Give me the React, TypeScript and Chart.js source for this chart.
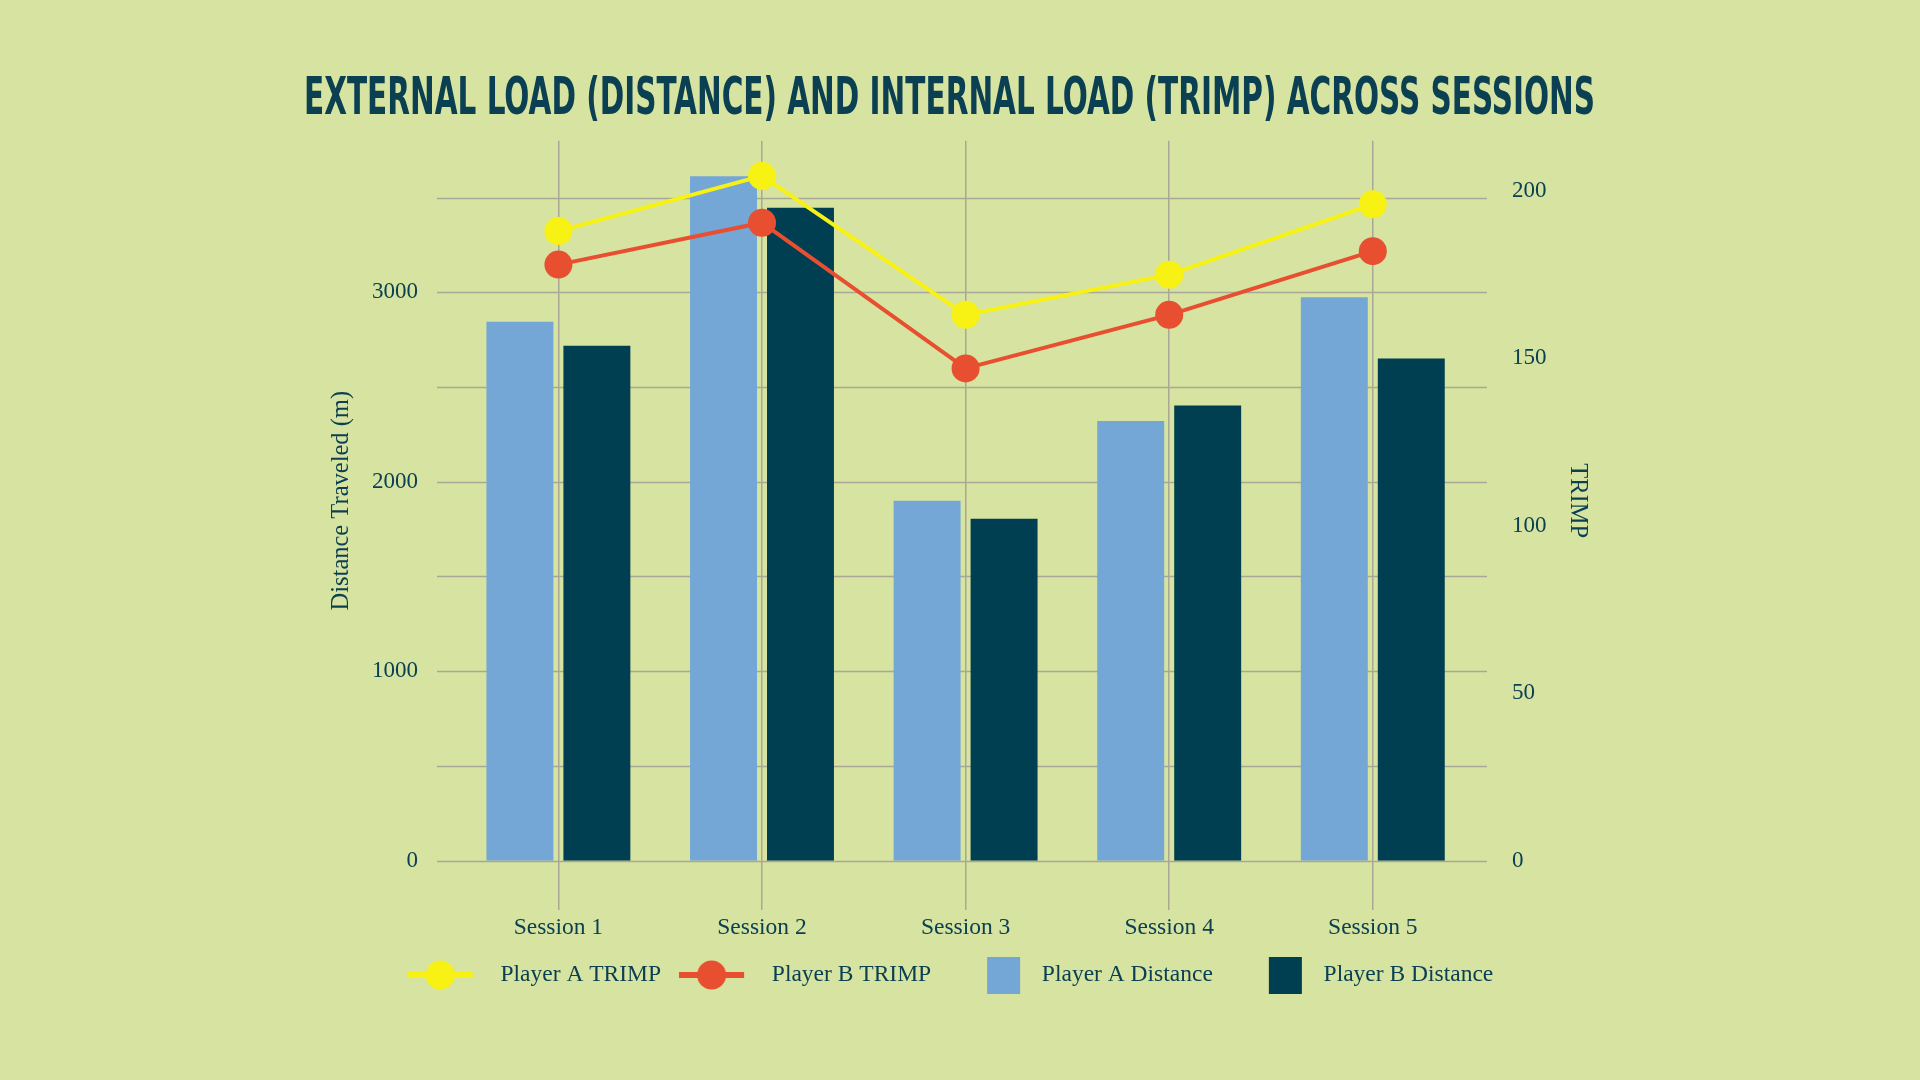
import { useEffect, useRef } from "react"
import { Chart, registerables, type Plugin } from "chart.js"

// Register Chart.js components
Chart.register(...registerables)

const sessions = ["Session 1", "Session 2", "Session 3", "Session 4", "Session 5"]
const playerADistance = [2845, 3613, 1900, 2321, 2974]
const playerBDistance = [2718, 3446, 1805, 2402, 2650]
const playerATrimp = [188, 204.5, 163, 175, 196]
const playerBTrimp = [178, 190.5, 147, 163, 182]

// grid steps and the tick values that carry a label
const distanceSteps = [0, 500, 1000, 1500, 2000, 2500, 3000, 3500]
const distanceLabels = [0, 1000, 2000, 3000]
const trimpLabels = [0, 50, 100, 150, 200]

const TITLE = "EXTERNAL LOAD (DISTANCE) AND INTERNAL LOAD (TRIMP) ACROSS SESSIONS"

const BG = "#d7e3a0"
const INK = "#0b4052"
const GRID = "#aaa796"
const LIGHT_BLUE = "#74a7d6"
const DARK_TEAL = "#003f52"
const YELLOW = "#f7f214"
const RED = "#e84f30"
const SERIF = '"Liberation Serif", "Times New Roman", serif'

// legend icon: line with a dot, or a plain box, drawn on a small canvas
function lineIcon(color: string) {
  const c = document.createElement("canvas")
  c.width = 81
  c.height = 30
  const ctx = c.getContext("2d")!
  ctx.fillStyle = color
  ctx.fillRect(0, 12, 65, 6)
  ctx.beginPath()
  ctx.arc(32.5, 15, 14.5, 0, Math.PI * 2)
  ctx.fill()
  return c
}

function boxIcon(color: string) {
  const c = document.createElement("canvas")
  c.width = 81
  c.height = 37
  const ctx = c.getContext("2d")!
  ctx.fillStyle = color
  ctx.fillRect(38, 0, 33, 37)
  return c
}

// horizontal grid lines run a little past the category area
const extendedGrid: Plugin = {
  id: "extendedGrid",
  beforeDatasetsDraw(chart) {
    const { ctx, chartArea } = chart
    const y = chart.scales.y
    ctx.save()
    ctx.strokeStyle = GRID
    ctx.lineWidth = 1.5
    y.ticks.forEach((tick) => {
      const py = Math.round(y.getPixelForValue(tick.value)) + 0.5
      ctx.beginPath()
      ctx.moveTo(chartArea.left - 19.6, py)
      ctx.lineTo(chartArea.right + 12.4, py)
      ctx.stroke()
    })
    ctx.restore()
  },
}

// condensed display title
const condensedTitle: Plugin = {
  id: "condensedTitle",
  afterDraw(chart) {
    const { ctx } = chart
    ctx.save()
    ctx.font = 'bold 52px "Liberation Sans Narrow", "DejaVu Sans Condensed", sans-serif'
    const w = ctx.measureText(TITLE).width
    const sx = Math.min(1, 1291 / w)
    ctx.translate(949.5, 114)
    ctx.scale(sx, 1)
    ctx.textAlign = "center"
    ctx.textBaseline = "alphabetic"
    ctx.fillStyle = INK
    ctx.fillText(TITLE, 0, 0)
    ctx.restore()
  },
}

export default function App() {
  const chartRef = useRef<HTMLCanvasElement>(null)
  const chartInstance = useRef<Chart | null>(null)

  useEffect(() => {
    if (!chartRef.current) return
    if (chartInstance.current) chartInstance.current.destroy()

    const ctx = chartRef.current.getContext("2d")
    if (!ctx) return

    const icons = [lineIcon(YELLOW), lineIcon(RED), boxIcon(LIGHT_BLUE), boxIcon(DARK_TEAL)]

    chartInstance.current = new Chart(ctx, {
      type: "bar",
      data: {
        labels: sessions,
        datasets: [
          {
            type: "line",
            label: "Player A TRIMP",
            data: playerATrimp,
            yAxisID: "y1",
            borderColor: YELLOW,
            backgroundColor: YELLOW,
            borderWidth: 4,
            pointRadius: 14,
            pointBorderWidth: 0,
            pointBackgroundColor: YELLOW,
            tension: 0,
          },
          {
            type: "line",
            label: "Player B TRIMP",
            data: playerBTrimp,
            yAxisID: "y1",
            borderColor: RED,
            backgroundColor: RED,
            borderWidth: 4,
            pointRadius: 14,
            pointBorderWidth: 0,
            pointBackgroundColor: RED,
            tension: 0,
          },
          {
            type: "bar",
            label: "Player A Distance",
            data: playerADistance,
            yAxisID: "y",
            backgroundColor: LIGHT_BLUE,
            borderWidth: 0,
            categoryPercentage: 0.756,
            barPercentage: 0.87,
          },
          {
            type: "bar",
            label: "Player B Distance",
            data: playerBDistance,
            yAxisID: "y",
            backgroundColor: DARK_TEAL,
            borderWidth: 0,
            categoryPercentage: 0.756,
            barPercentage: 0.87,
          },
        ],
      },
      options: {
        responsive: false,
        animation: false,
        layout: {
          padding: { top: 140.7, left: 304, right: 323, bottom: 83.25 },
        },
        scales: {
          x: {
            offset: true,
            afterFit: (scale) => {
              scale.height = 84.55
            },
            grid: {
              offset: false,
              color: GRID,
              lineWidth: 1.5,
              tickLength: 49.3,
            },
            border: { display: false },
            ticks: {
              color: INK,
              padding: 4,
              font: { family: SERIF, size: 23.5 },
            },
          },
          y: {
            position: "left",
            min: 0,
            max: 3800,
            afterFit: (scale) => {
              scale.width = 152.6
            },
            afterBuildTicks: (scale) => {
              scale.ticks = distanceSteps.map((value) => ({ value }))
            },
            grid: { display: false, drawTicks: false },
            border: { display: false },
            ticks: {
              padding: 38.6,
              color: INK,
              font: { family: SERIF, size: 23 },
              callback: (value) => (distanceLabels.includes(Number(value)) ? String(value) : ""),
            },
            title: {
              display: true,
              text: "Distance Traveled (m)",
              color: INK,
              font: { family: SERIF, size: 24.5 },
              padding: { top: 23.3, bottom: 0 },
            },
          },
          y1: {
            position: "right",
            min: 0,
            max: 215,
            afterFit: (scale) => {
              scale.width = 122.4
            },
            afterBuildTicks: (scale) => {
              scale.ticks = trimpLabels.map((value) => ({ value }))
            },
            grid: { display: false, drawTicks: false },
            border: { display: false },
            ticks: {
              padding: 37.4,
              color: INK,
              font: { family: SERIF, size: 23 },
            },
            title: {
              display: true,
              text: "TRIMP",
              color: INK,
              font: { family: SERIF, size: 24.5 },
              padding: { top: 5.3, bottom: 0 },
            },
          },
        },
        plugins: {
          title: { display: false },
          tooltip: { enabled: false },
          legend: {
            display: true,
            position: "bottom",
            labels: {
              color: INK,
              font: { family: SERIF, size: 23.5 },
              usePointStyle: true,
              pointStyleWidth: 81,
              padding: 18,
              generateLabels: (chart) => {
                const items = Chart.defaults.plugins.legend.labels.generateLabels(chart)
                return items.map((item, i) => ({ ...item, pointStyle: icons[i] }))
              },
            },
          },
        },
      },
      plugins: [extendedGrid, condensedTitle],
    })

    return () => {
      if (chartInstance.current) {
        chartInstance.current.destroy()
        chartInstance.current = null
      }
    }
  }, [])

  return (
    <div
      style={{
        position: "absolute",
        left: 0,
        top: 0,
        width: 1920,
        height: 1080,
        background: BG,
      }}
    >
      <canvas ref={chartRef} width={1920} height={1080} style={{ display: "block" }} />
    </div>
  )
}
